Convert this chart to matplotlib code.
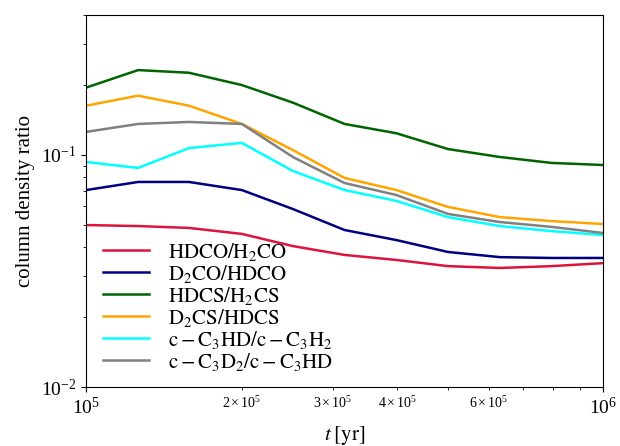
import numpy as np
import matplotlib
matplotlib.use("Agg")
import matplotlib.pyplot as plt

plt.rcParams['font.family'] = ['Liberation Serif', 'DejaVu Serif']
plt.rcParams['mathtext.fontset'] = 'stix'

# time grid (10 points per decade)
t = [1.0e5, 1.26e5, 1.58e5, 2.0e5, 2.51e5, 3.16e5, 3.98e5, 5.01e5, 6.31e5, 7.94e5, 1.0e6]

hdco_h2co = [0.0499, 0.0494, 0.0485, 0.0457, 0.0405, 0.0371, 0.0353, 0.0332, 0.0326, 0.0332, 0.0342]
d2co_hdco = [0.0706, 0.0765, 0.0765, 0.0706, 0.0585, 0.0475, 0.0430, 0.0382, 0.0363, 0.0360, 0.0360]
hdcs_h2cs = [0.195, 0.232, 0.226, 0.200, 0.168, 0.136, 0.124, 0.106, 0.098, 0.0924, 0.0905]
d2cs_hdcs = [0.163, 0.180, 0.163, 0.136, 0.105, 0.0796, 0.0706, 0.0597, 0.0540, 0.0519, 0.0504]
c3hd_c3h2 = [0.0933, 0.0879, 0.107, 0.1127, 0.0853, 0.0706, 0.0634, 0.0540, 0.0494, 0.0470, 0.0452]
c3d2_c3hd = [0.1257, 0.136, 0.1387, 0.136, 0.098, 0.0757, 0.0672, 0.0557, 0.0514, 0.0490, 0.0461]

series = [
    (hdco_h2co, 'crimson', r'$\mathrm{HDCO/H_2CO}$'),
    (d2co_hdco, 'navy', r'$\mathrm{D_2CO/HDCO}$'),
    (hdcs_h2cs, 'darkgreen', r'$\mathrm{HDCS/H_2CS}$'),
    (d2cs_hdcs, 'orange', r'$\mathrm{D_2CS/HDCS}$'),
    (c3hd_c3h2, 'cyan', r'$\mathrm{c-C_3HD/c-C_3H_2}$'),
    (c3d2_c3hd, 'gray', r'$\mathrm{c-C_3D_2/c-C_3HD}$'),
]

fig = plt.figure(figsize=(6.2, 4.46), dpi=100)
ax = fig.add_axes([0.139, 0.132, 0.834, 0.834])

for vals, col, lab in series:
    ax.plot(t, vals, color=col, lw=1.8, label=lab)

ax.set_xscale('log')
ax.set_yscale('log')
ax.set_xlim(1e5, 1e6)
ax.set_ylim(1e-2, 0.4)

ax.tick_params(axis='both', which='major', labelsize=14)
ax.tick_params(axis='x', which='minor', labelsize=10)

ax.set_xlabel(r'$t\;[\mathrm{yr}]$', fontsize=15)
ax.set_ylabel('column density ratio', fontsize=15)

ax.legend(loc='lower left', frameon=False, fontsize=15, handlelength=2.2,
          labelspacing=0.0, borderaxespad=0.3, handletextpad=0.9,
          bbox_to_anchor=(0.005, 0.0))

fig.savefig('out.png', dpi=100)
